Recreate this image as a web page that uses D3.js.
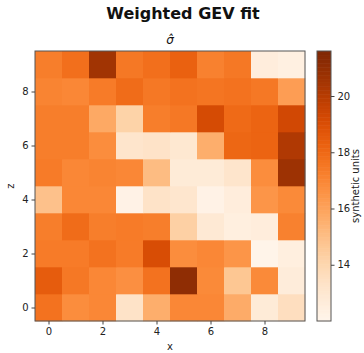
<!DOCTYPE html>
<html><head><meta charset="utf-8">
<script src="https://cdn.jsdelivr.net/npm/d3@7"></script>
<style>body{margin:0;background:#fff}svg{font-family:"DejaVu Sans",sans-serif}</style>
</head><body><svg id="c" width="364" height="353"></svg>
<script>
const xCats = [0,1,2,3,4,5,6,7,8,9];
const zCats = [0,1,2,3,4,5,6,7,8,9];
const xTicks = [0,2,4,6,8];
const zTicks = [0,2,4,6,8];
const cbTicks = [14,16,18,20];
const cbDomain = [12.0, 21.6];
// rows indexed by z (0 = bottom), values along x
const row0 = [17.7,16.8,17.0,13.3,15.6,17.0,17.0,15.7,12.8,13.6];
const row1 = [18.5,17.5,17.0,16.7,17.7,21.1,16.9,14.7,16.9,12.7];
const row2 = [17.4,17.4,17.7,17.4,19.1,16.8,17.0,16.5,12.1,12.5];
const row3 = [17.3,17.9,17.3,17.4,17.3,14.3,12.9,12.5,12.6,17.2];
const row4 = [14.9,17.0,17.0,12.2,13.3,13.1,12.2,12.6,16.5,16.9];
const row5 = [17.4,17.0,17.1,17.0,15.1,12.8,12.8,13.2,16.8,20.7];
const row6 = [17.3,17.3,16.8,13.2,13.3,13.0,15.6,18.1,18.2,20.2];
const row7 = [17.3,17.3,15.8,14.2,17.3,17.5,19.2,18.0,18.2,19.3];
const row8 = [17.1,17.0,17.4,17.9,17.5,17.7,17.6,17.7,17.5,16.2];
const row9 = [17.3,17.8,20.6,17.5,17.8,18.3,17.2,17.5,12.6,12.4];
const rows = [row0,row1,row2,row3,row4,row5,row6,row7,row8,row9];

const svg = d3.select("#c");
const L=35, R=305, T=51, B=321;
const x = d3.scaleLinear().domain([-0.5,9.5]).range([L,R]);
const y = d3.scaleLinear().domain([-0.5,9.5]).range([B,T]);
const color = d3.scaleSequential(d3.interpolateOranges).domain(cbDomain);

const cells = [];
rows.forEach((r,zi)=>r.forEach((v,xi)=>cells.push({x:xCats[xi],z:zCats[zi],v})));
svg.append("g").selectAll("rect").data(cells).join("rect")
  .attr("x",d=>x(d.x-0.5)).attr("y",d=>y(d.z+0.5))
  .attr("width",x(1)-x(0)+0.3).attr("height",y(0)-y(1)+0.3)
  .attr("fill",d=>color(d.v));

svg.append("rect").attr("x",L).attr("y",T).attr("width",R-L).attr("height",B-T)
  .attr("fill","none").attr("stroke","#555").attr("stroke-width",1);

const xa = svg.append("g").attr("transform",`translate(0,${B})`)
  .call(d3.axisBottom(x).tickValues(xTicks).tickSize(3.5).tickPadding(3).tickFormat(d3.format("d")));
const za = svg.append("g").attr("transform",`translate(${L},0)`)
  .call(d3.axisLeft(y).tickValues(zTicks).tickSize(3.5).tickPadding(3).tickFormat(d3.format("d")));
[xa,za].forEach(a=>{a.select(".domain").remove();a.selectAll("text").attr("font-size",10).attr("fill","#222").attr("font-family","DejaVu Sans");a.selectAll("line").attr("stroke","#444");});

svg.append("text").attr("x",183).attr("y",19).attr("text-anchor","middle")
  .attr("font-size",16).attr("font-weight","bold").attr("fill","#111").text("Weighted GEV fit");
svg.append("text").attr("x",(L+R)/2).attr("y",44).attr("text-anchor","middle")
  .attr("font-size",12).attr("font-style","italic").attr("fill","#111").text("σ\u0302");
svg.append("text").attr("x",(L+R)/2).attr("y",350).attr("text-anchor","middle")
  .attr("font-size",10).attr("fill","#222").text("x");
svg.append("text").attr("transform",`translate(14,${(T+B)/2}) rotate(-90)`).attr("text-anchor","middle")
  .attr("font-size",10).attr("fill","#222").text("z");

// colorbar
const CL=317, CW=14;
const cy = d3.scaleLinear().domain(cbDomain).range([B,T]);
const steps = d3.range(0,200);
svg.append("g").selectAll("rect").data(steps).join("rect")
  .attr("x",CL).attr("width",CW)
  .attr("y",i=>cy(cbDomain[0]+(i+1)*(cbDomain[1]-cbDomain[0])/200))
  .attr("height",(B-T)/200+0.6)
  .attr("fill",i=>color(cbDomain[0]+(i+0.5)*(cbDomain[1]-cbDomain[0])/200));
svg.append("rect").attr("x",CL).attr("y",T).attr("width",CW).attr("height",B-T)
  .attr("fill","none").attr("stroke","#555").attr("stroke-width",1);
const ca = svg.append("g").attr("transform",`translate(${CL+CW},0)`)
  .call(d3.axisRight(cy).tickValues(cbTicks).tickSize(3.5).tickPadding(3).tickFormat(d3.format("d")));
ca.select(".domain").remove();
ca.selectAll("text").attr("font-size",10).attr("fill","#222").attr("font-family","DejaVu Sans");
ca.selectAll("line").attr("stroke","#444");
svg.append("text").attr("transform",`translate(359,${(T+B)/2}) rotate(-90)`).attr("text-anchor","middle")
  .attr("font-size",10).attr("fill","#222").text("synthetic units");
</script></body></html>
